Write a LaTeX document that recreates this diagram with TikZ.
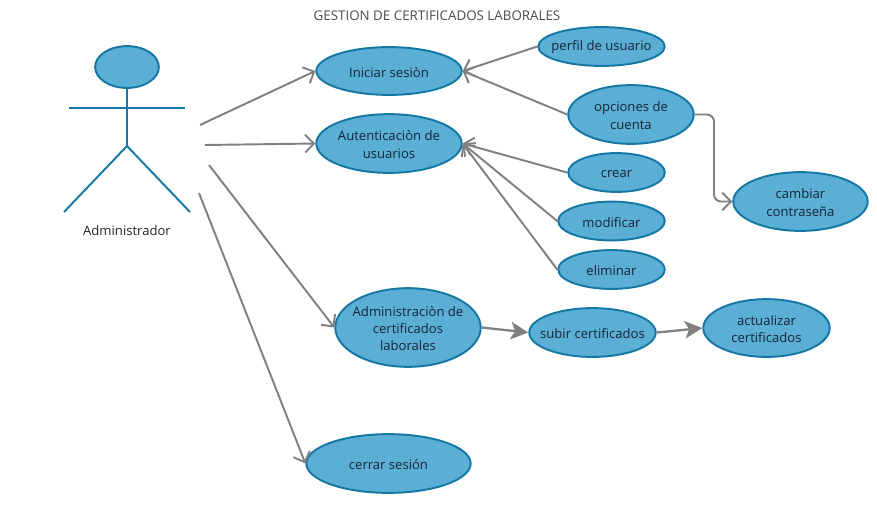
\documentclass[tikz,border=0pt]{standalone}
\usepackage{fontspec}
\setmainfont{Open Sans}
\usetikzlibrary{arrows.meta,shapes.geometric}
\definecolor{casofill}{RGB}{91,174,212}
\definecolor{casoline}{RGB}{20,120,165}
\definecolor{flecha}{RGB}{128,128,128}
\definecolor{texto}{RGB}{22,38,56}
\begin{document}
\begin{tikzpicture}[x=0.02cm, y=-0.02cm,
	caso/.style={ellipse, draw=casoline, fill=casofill, line width=1.1pt, inner sep=0pt},
	rotulo/.style={align=center, text=texto, inner sep=0pt, yshift=-0.6pt, font=\fontsize{7.45}{9.9}\selectfont},
	actor/.style={casoline, line width=1.1pt},
	usa/.style={flecha, line width=1.1pt, -{Straight Barb[length=5pt, width=10pt, line width=1.1pt]}},
	sube/.style={flecha, line width=1.3pt, -{Stealth[length=10pt, width=10pt, inset=2.5pt]}}]
	\useasboundingbox (0,0) rectangle (877,529);
	\node[text=black!70, font=\fontsize{7.6}{9.9}\selectfont] (titulo) at (437,16) {GESTION DE CERTIFICADOS LABORALES};
	% actor
	\node[caso, minimum width=64*0.5669pt, minimum height=42*0.5669pt] (cabeza) at (127,67) {};
	\coordinate (cadera) at (127,146);
	\coordinate (brazoA) at (69,108);
	\coordinate (brazoB) at (185,108);
	\coordinate (pieA) at (64,212);
	\coordinate (pieB) at (190,212);
	\draw[actor](cabeza.south)--(cadera);
	\draw[actor](brazoA)--(brazoB);
	\draw[actor](pieA)--(cadera)--(pieB);
	\node[text=black!85, font=\fontsize{7.45}{9.9}\selectfont] (admin) at (127,230.5) {Administrador};
	% casos
	\foreach \nombre/\x/\y/\a/\b/\texto in {
		iniciar/389/71/146/48/{Iniciar sesiòn},
		autent/389/143.5/146/59/{Autenticaciòn de\\usuarios},
		perfil/601.5/46.5/127/39/{perfil de usuario},
		opciones/631/114.5/126/59/{opciones de\\cuenta},
		crear/616.5/172.5/97/39/{crear},
		modificar/611.5/221/107/39/{modificar},
		eliminar/611.5/269.5/107/39/{eliminar},
		cambiar/800.5/201.5/135/59/{cambiar\\contraseña},
		certif/408/327.5/146/79/{Administraciòn de\\certificados\\laborales},
		subir/592.5/332.5/127/49/{subir certificados},
		actualizar/766.5/328/127/58/{actualizar\\certificados},
		cerrar/388.5/463.5/165/59/{cerrar sesión}}{
		\node[caso, minimum width=\a*0.5669pt, minimum height=\b*0.5669pt] (\nombre) at (\x,\y) {};
		\node[rotulo] (\nombre-t) at (\nombre) {\texto};
	}
	% extremos libres junto al actor
	\coordinate (salidaA) at (200,125);
	\coordinate (salidaB) at (205,145);
	\coordinate (salidaC) at (209,165);
	\coordinate (salidaD) at (199,193);
	\draw[usa](salidaA)--(iniciar.west);
	\draw[usa](salidaB)--(autent.west);
	\draw[usa](salidaC)--(certif.west);
	\draw[usa](salidaD)--(cerrar.west);
	\foreach \desde in {perfil,opciones}{
		\draw[usa](\desde.west)--(iniciar.east);
	}
	\foreach \desde in {crear,modificar,eliminar}{
		\draw[usa](\desde.west)--(autent.east);
	}
	\draw[usa, rounded corners=4pt](opciones.east)-|(714,201.5)--(cambiar.west);
	\draw[sube](certif.east)--(subir.west);
	\draw[sube](subir.east)--(actualizar.west);
\end{tikzpicture}
\end{document}
